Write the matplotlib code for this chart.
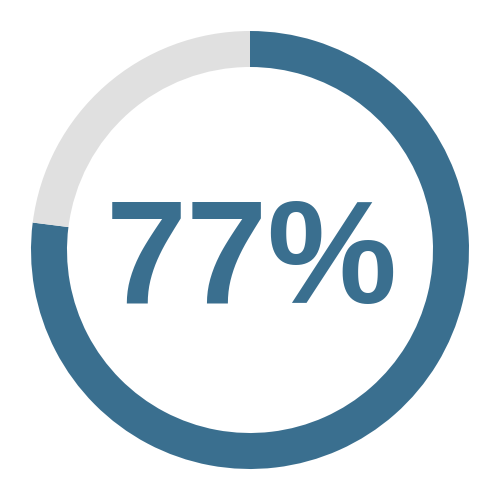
import matplotlib
matplotlib.use("Agg")
import matplotlib.pyplot as plt

# Data
labels = ["Done", "Remaining"]
values = [77, 23]
colors = ["#3a6f8f", "#e0e0e0"]
center_text = "77%"

fig = plt.figure(figsize=(5, 5), dpi=100)
fig.patch.set_facecolor("white")
ax = fig.add_axes([0, 0, 1, 1])

# Donut ring, starting at 12 o'clock, clockwise
ax.pie(values, colors=colors, radius=219, startangle=90, counterclock=False,
       center=(0, 0), frame=True,
       wedgeprops=dict(width=36, edgecolor="none", antialiased=True))
ax.set_xlim(-250, 250)
ax.set_ylim(-250, 250)
ax.set_aspect("equal")
ax.axis("off")

ax.text(2, -53, center_text, ha="center", va="baseline",
        fontsize=105, fontweight="bold", color=colors[0],
        family=["Liberation Sans", "DejaVu Sans"])

fig.savefig("out.png", dpi=100, facecolor="white")
